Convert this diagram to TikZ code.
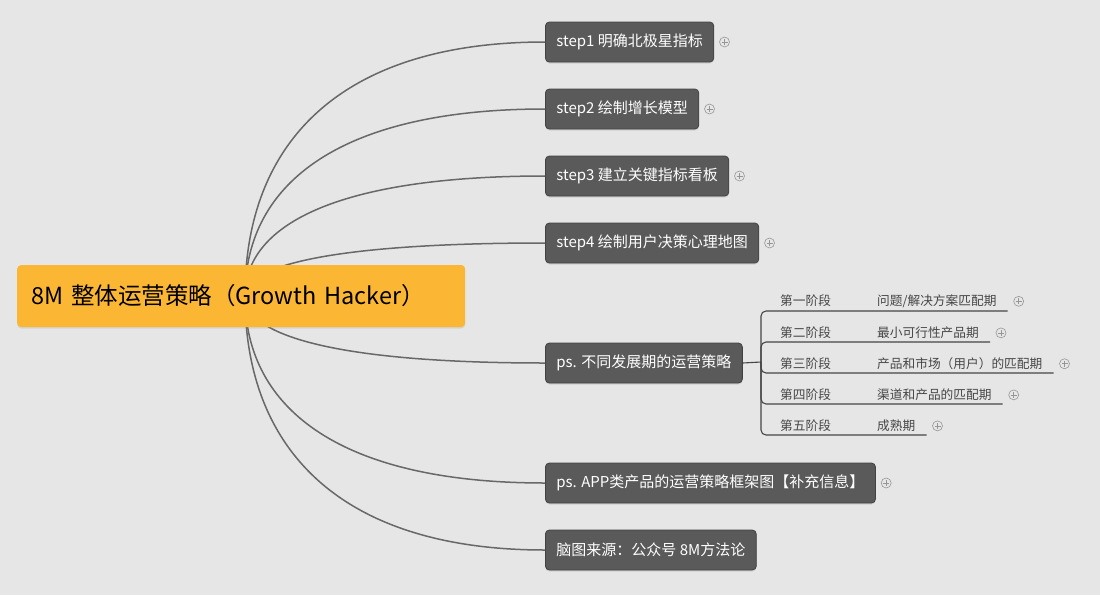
\documentclass[tikz,border=0pt]{standalone}
\usepackage{fontspec}
\setmainfont{Noto Sans CJK SC}
\usepackage{tikz}
\usetikzlibrary{positioning, calc, shadows}
\usepackage{xcolor}
\definecolor{canvasgray}{RGB}{230,230,230}
\definecolor{rootorange}{RGB}{251,183,52}
\definecolor{topicgray}{RGB}{90,90,90}
\definecolor{topicedge}{RGB}{66,66,66}
\definecolor{linkgray}{RGB}{104,104,104}
\definecolor{phasegray}{RGB}{70,70,70}
\definecolor{foldgray}{RGB}{150,150,150}

\tikzset{
    rootbox/.style={fill=rootorange, rounded corners=4pt, anchor=west, text width=420pt,
        inner xsep=14pt, minimum height=62pt, font=\fontsize{23.5}{28}\selectfont,
        drop shadow={opacity=0.18, shadow xshift=0pt, shadow yshift=-1.5pt}},
    topic/.style={draw=topicedge, line width=0.8pt, fill=topicgray, text=white,
        rounded corners=4pt, anchor=west, inner xsep=11pt, minimum height=40pt,
        font=\fontsize{15}{18}\selectfont,
        drop shadow={opacity=0.22, shadow xshift=0pt, shadow yshift=-1.5pt}},
    phase/.style={anchor=south west, inner xsep=0pt, inner ysep=3pt, text=phasegray,
        font=\fontsize{12.7}{15}\selectfont},
    link/.style={linkgray, line width=1.5pt},
    subline/.style={phasegray, line width=1.1pt},
    fold/.style={circle, draw=foldgray, line width=0.6pt, inner sep=0pt, minimum size=10pt,
        path picture={\draw[foldgray, line width=0.6pt]
            ([yshift=-2pt]path picture bounding box.north) -- ([yshift=2pt]path picture bounding box.south)
            ([xshift=2pt]path picture bounding box.west) -- ([xshift=-2pt]path picture bounding box.east);}}
}

\begin{document}
\begin{tikzpicture}[x=1pt, y=-1pt]
        % canvas
        \fill[canvasgray] (0,0) rectangle (1100,595);
        \useasboundingbox (0,0) rectangle (1100,595);

        % main topics
        \node[topic] (s1) at (545,42) {step1\ 明确北极星指标};
        \node[topic] (s2) at (545,109) {step2\ 绘制增长模型};
        \node[topic] (s3) at (545,176) {step3\ 建立关键指标看板};
        \node[topic] (s4) at (545,243) {step4\ 绘制用户决策心理地图};
        \node[topic] (ps) at (545,363) {ps. 不同发展期的运营策略};
        \node[topic] (app) at (545,483) {ps. APP类产品的运营策略框架图【补充信息】};
        \node[topic] (src) at (545,550) {脑图来源：公众号 8M方法论};

        % collapsed markers
        \node[fold, right=5pt of s1] (f1) {};
        \node[fold, right=5pt of s2] (f2) {};
        \node[fold, right=5pt of s3] (f3) {};
        \node[fold, right=5pt of s4] (f4) {};
        \node[fold, right=5pt of app] (f5) {};

        % curved links from the root
        \coordinate (hub) at (245,296);
        \foreach \t in {s1,s2,s3,s4,ps,app,src} {
            \draw[link] (hub) .. controls ($(hub)!0.62!(hub |- \t.west)$) and ($(\t.west)!0.667!(hub |- \t.west)$) .. (\t.west);
        }

        % root topic
        \node[rootbox] (root) at (17,296) {8M 整体运营策略（Growth Hacker）};

        % phases of ps
        \coordinate (jn) at (761,362);
        \draw[subline] (ps.east) -- (jn);
        \foreach \n/\ly/\a/\b in {1/311/第一阶段/{问题/解决方案匹配期}, 2/342/第二阶段/最小可行性产品期,
                3/373/第三阶段/产品和市场（用户）的匹配期, 4/404/第四阶段/渠道和产品的匹配期, 5/435/第五阶段/成熟期} {
            \node[phase] (ph\n) at (780,\ly) {\makebox[97pt][l]{\a}\b};
            \draw[subline, rounded corners=5pt] (jn) |- ([xshift=11pt]ph\n.south east);
            \node[fold] (pf\n) at ([xshift=22pt]ph\n.east) {};
        }
    \end{tikzpicture}
\end{document}
